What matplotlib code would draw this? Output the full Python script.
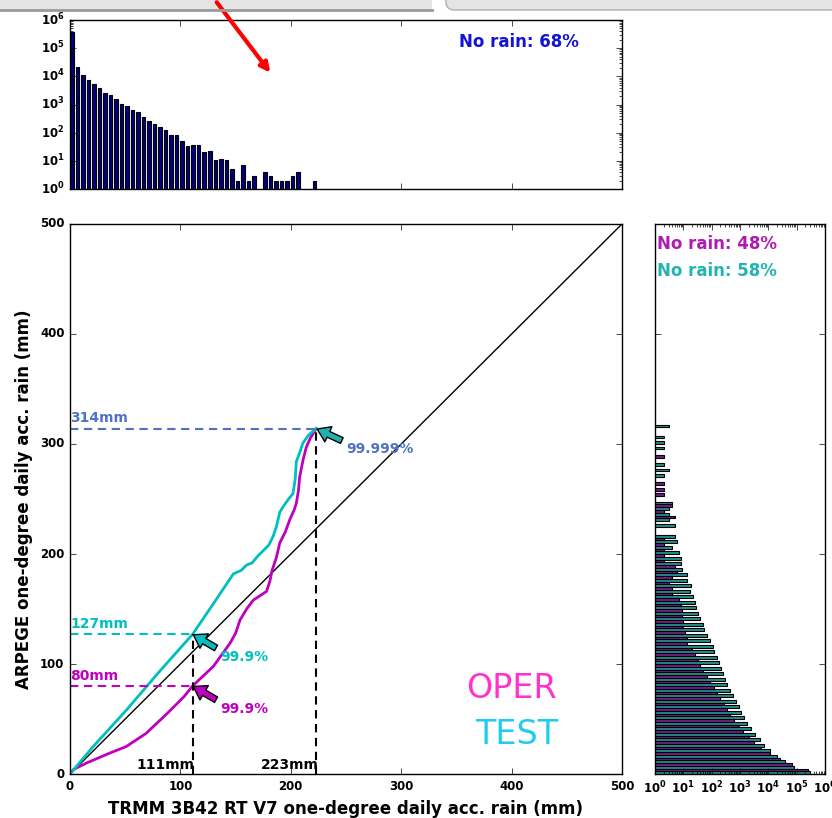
import numpy as np
import matplotlib.pyplot as plt
from matplotlib.patches import Rectangle, FancyBboxPatch, FancyArrowPatch
from matplotlib.lines import Line2D

plt.style.use('classic')
plt.rcParams['font.family'] = ['DejaVu Sans']
plt.rcParams['font.weight'] = 'bold'
plt.rcParams['mathtext.default'] = 'bf'

# TRMM daily rain histogram, 5mm bins
trmm_bins = np.arange(0, 225, 5)
trmm_counts = np.array([380000, 21000, 11500, 7500, 5200, 3800, 2600, 2200, 1550, 1080,
                        850, 650, 520, 355, 250, 200, 158, 120, 80, 80,
                        52, 34, 37, 37, 21, 23, 11, 12, 11, 5,
                        2, 7, 2, 3, 0, 4, 3, 2, 2, 2,
                        3, 4, 0, 0, 2])

# ARPEGE histograms, 5mm bins (OPER / TEST)
arp_bins = np.arange(0, 320, 5)
oper_counts = np.array([250000, 70000, 25000, 11000, 5600, 3200, 2000, 1250, 900, 630,
                        450, 350, 280, 200, 160, 125, 90, 70, 50, 40,
                        32, 25, 20, 14, 13, 11, 10, 10, 9, 9,
                        8, 7, 4, 4, 3, 4, 6, 5, 2, 2,
                        2, 2, 2, 0, 0, 0, 5, 2, 4, 0,
                        2, 2, 2, 0, 0, 0, 0, 2, 0, 0,
                        0, 0, 0, 0])
test_counts = np.array([300000, 80000, 40000, 20000, 11000, 7000, 5000, 3500, 2500, 1800,
                        1400, 1100, 900, 700, 560, 450, 350, 300, 250, 210,
                        180, 150, 125, 110, 90, 70, 55, 48, 40, 33,
                        28, 25, 22, 17, 18, 14, 13, 9, 8, 8,
                        7, 4, 6, 5, 0, 5, 3, 3, 3, 4,
                        0, 0, 0, 0, 2, 3, 2, 0, 0, 2,
                        2, 2, 0, 3])

# quantile-quantile curves: TRMM (x) vs ARPEGE (y)
oper_x = [0, 3, 15, 36, 51, 69, 88, 103, 111, 130, 145, 150, 154, 160, 166, 172, 178, 181,
          183, 187, 190, 195, 199, 203, 205, 207, 208, 211, 214, 218, 223]
oper_y = [0, 4, 10, 19, 25, 37, 55, 70, 80, 98, 119, 128, 140, 150, 158, 162, 166, 175,
          185, 197, 210, 220, 231, 240, 246, 258, 270, 285, 297, 306, 314]
test_x = [0, 21, 51, 80, 111, 130, 148, 155, 160, 165, 170, 175, 180, 184, 187, 190, 193,
          198, 202, 204, 205, 208, 211, 216, 223]
test_y = [0, 25, 58, 92, 127, 155, 182, 185, 190, 192, 198, 203, 208, 216, 225, 238, 243,
          250, 255, 268, 284, 292, 301, 308, 314]

trmm_q999, trmm_q99999 = 111, 223
oper_q999, test_q999, arp_q99999 = 80, 127, 314

W, H = 832, 818


def fig_rect(l, t, r, b):
    return [l / W, 1 - b / H, (r - l) / W, (b - t) / H]


fig = plt.figure(figsize=(8.32, 8.18), dpi=100, facecolor='white')

# slide / screenshot decorations
fig.add_artist(Rectangle((0, 1 - 10 / H), 432 / W, 10 / H, transform=fig.transFigure,
                         facecolor='#e4e4e4', edgecolor='none'))
fig.add_artist(Line2D([0, 432 / W], [1 - 10 / H, 1 - 10 / H], transform=fig.transFigure,
                      color='#9a9a9a', lw=2))
fig.add_artist(FancyBboxPatch((446 / W, 1 - 10 / H), 400 / W, 20 / H, transform=fig.transFigure,
                              boxstyle='round,pad=0,rounding_size=0.01',
                              facecolor='#e4e4e4', edgecolor='#b0b0b0', lw=1))

# top histogram
ax_top = fig.add_axes(fig_rect(70, 20, 622, 189))
nz = trmm_counts > 0
ax_top.bar(trmm_bins[nz], trmm_counts[nz], width=3.2, align='edge',
           color='navy', edgecolor='k', linewidth=0.8)
ax_top.set_yscale('log')
ax_top.set_ylim(1, 1e6)
ax_top.set_xlim(0, 500)
ax_top.set_xticks([0, 100, 200, 300, 400, 500])
ax_top.set_xticklabels([])
ax_top.tick_params(labelsize=8.5)
ax_top.text(0.813, 0.87, 'No rain: 68%', transform=ax_top.transAxes, color='#1414d4',
            fontsize=12, fontweight='bold', ha='center', va='center')

# main q-q plot
ax = fig.add_axes(fig_rect(70, 224, 622, 774))
ax.plot([0, 500], [0, 500], 'k-', lw=1)
ax.plot(oper_x, oper_y, color='m', lw=2)
ax.plot(test_x, test_y, color='c', lw=2)

blend = '#4f72c2'
ax.plot([0, trmm_q999], [test_q999, test_q999], '--', color='c', lw=1.5, dashes=(6, 4))
ax.plot([0, trmm_q999], [oper_q999, oper_q999], '--', color='m', lw=1.5, dashes=(6, 4))
ax.plot([0, trmm_q99999], [arp_q99999, arp_q99999], '--', color=blend, lw=1.5, dashes=(6, 4))
ax.plot([trmm_q999, trmm_q999], [0, test_q999], 'k--', lw=1.5, dashes=(6, 4))
ax.plot([trmm_q99999, trmm_q99999], [0, arp_q99999], 'k--', lw=1.5, dashes=(6, 4))

ax.text(0, test_q999 + 3, '%dmm' % test_q999, color='c', fontsize=10, va='bottom')
ax.text(0, oper_q999 + 3, '%dmm' % oper_q999, color='m', fontsize=10, va='bottom')
ax.text(0, arp_q99999 + 3, '%dmm' % arp_q99999, color=blend, fontsize=10, va='bottom')
ax.text(trmm_q999 + 2, 2, '%dmm' % trmm_q999, color='k', fontsize=10, ha='right', va='bottom')
ax.text(trmm_q99999 + 2, 2, '%dmm' % trmm_q99999, color='k', fontsize=10, ha='right', va='bottom')

arrow_kw = dict(width=4.5, headwidth=12, headlength=9, shrink=0.03, edgecolor='k', lw=1)
ax.annotate('99.9%', xy=(trmm_q999, test_q999), xytext=(136, 106), color='c', fontsize=10,
            va='center', arrowprops=dict(facecolor='c', **arrow_kw))
ax.annotate('99.9%', xy=(trmm_q999, oper_q999), xytext=(136, 59), color='m', fontsize=10,
            va='center', arrowprops=dict(facecolor='m', **arrow_kw))
ax.annotate('99.999%', xy=(trmm_q99999, arp_q99999), xytext=(250, 295), color=blend, fontsize=10,
            va='center', arrowprops=dict(facecolor='#20b0b0', **arrow_kw))

ax.text(0.80, 0.155, 'OPER', transform=ax.transAxes, color='#ff33cc', fontsize=24,
        fontweight='normal', ha='center', va='center')
ax.text(0.81, 0.072, 'TEST', transform=ax.transAxes, color='#22ccee', fontsize=24,
        fontweight='normal', ha='center', va='center')

ax.set_xlim(0, 500)
ax.set_ylim(0, 500)
ax.set_xticks([0, 100, 200, 300, 400, 500])
ax.set_yticks([0, 100, 200, 300, 400, 500])
ax.tick_params(labelsize=8.5)
ax.set_xlabel('TRMM 3B42 RT V7 one-degree daily acc. rain (mm)', fontsize=12, fontweight='bold')
ax.set_ylabel('ARPEGE one-degree daily acc. rain (mm)', fontsize=12, fontweight='bold')

# right histogram
ax_r = fig.add_axes(fig_rect(655, 224, 825, 774))
nz_t = test_counts > 0
nz_o = oper_counts > 0
ax_r.barh(arp_bins[nz_t], test_counts[nz_t], height=2.5, align='edge',
          color='#248f8f', edgecolor='k', linewidth=0.8)
ax_r.barh(arp_bins[nz_o] + 2.5, oper_counts[nz_o], height=2.5, align='edge',
          color='#761a86', edgecolor='k', linewidth=0.8)
ax_r.set_xscale('log')
ax_r.set_xlim(1, 1e6)
ax_r.set_ylim(0, 500)
ax_r.set_yticks([0, 100, 200, 300, 400, 500])
ax_r.set_yticklabels([])
ax_r.tick_params(labelsize=8.5)
ax_r.text(0.01, 0.964, 'No rain: 48%', transform=ax_r.transAxes, color='#b01cb0',
          fontsize=12, fontweight='bold', ha='left', va='center')
ax_r.text(0.01, 0.915, 'No rain: 58%', transform=ax_r.transAxes, color='#22b4b4',
          fontsize=12, fontweight='bold', ha='left', va='center')

# red pointer arrow from the slide
fig.add_artist(FancyArrowPatch((215 / W, 1.0), (272 / W, 1 - 75 / H), transform=fig.transFigure,
                               arrowstyle='-|>', mutation_scale=14, color='red', lw=3))

plt.savefig('out.png', dpi=100, facecolor='white')
plt.close()
